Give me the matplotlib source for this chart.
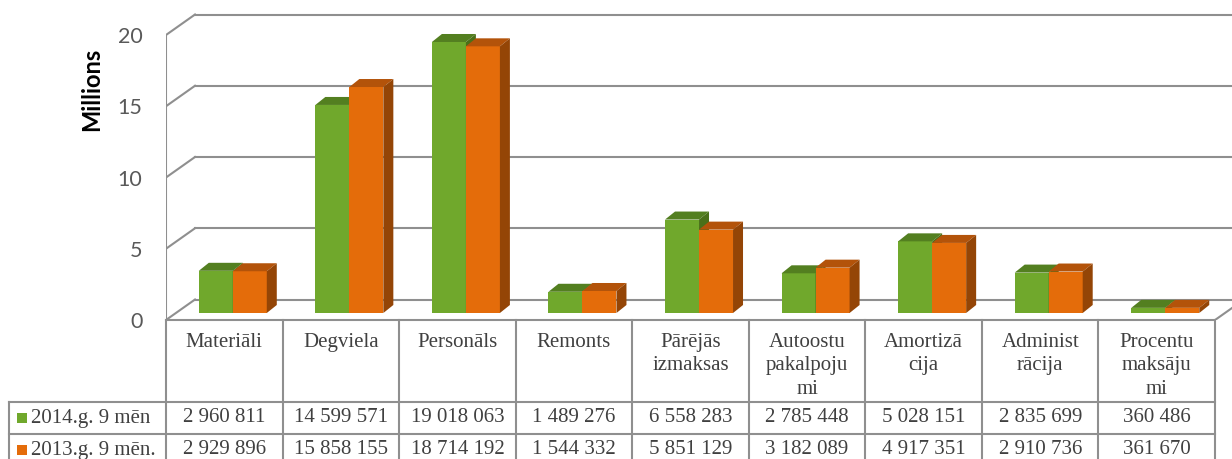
import matplotlib
matplotlib.use('Agg')
import matplotlib.pyplot as plt
import matplotlib.patches as patches
import numpy as np

categories = ["Materiāli", "Degviela", "Personāls", "Remonts", "Pārējās\nizmaksas",
              "Autoostu\npakalpoju\nmi", "Amortizā\ncija", "Administ\nrācija",
              "Procentu\nmaksāju\nmi"]
series_names = ["2014.g. 9 mēn", "2013.g. 9 mēn."]
values_2014 = [2960811, 14599571, 19018063, 1489276, 6558283, 2785448, 5028151, 2835699, 360486]
values_2013 = [2929896, 15858155, 18714192, 1544332, 5851129, 3182089, 4917351, 2910736, 361670]
y_ticks = [0, 5, 10, 15, 20]

# colours: front, top, side
green = ('#70A82C', '#537F20', '#4A7019')
orange = ('#E46C0A', '#B3530A', '#944506')
grid_col = '#8f8f8f'
text_col = '#404040'

W, H = 1232, 459
PX_CAT = 116.56   # pixels per category
PX_M = 14.25      # pixels per million
Y0 = 320          # pixel row of value 0 on the front plane

fig = plt.figure(figsize=(W / 100, H / 100), dpi=100)
ax = fig.add_axes([166 / W, (H - Y0) / H, (W - 166) / W, Y0 / H])
ax.set_xlim(-0.5, -0.5 + (W - 166) / PX_CAT)
ax.set_ylim(0, Y0 / PX_M)
ax.patch.set_alpha(0)
for s in ax.spines.values():
    s.set_visible(False)

# depth of the walls and bars (in data units)
wx, wy = 29 / PX_CAT, 20.5 / PX_M
ox, oy = 8.5 / PX_CAT, 7 / PX_M
dx, dy = 10 / PX_CAT, 8 / PX_M
bw = 34 / PX_CAT

n = len(categories)
xs = np.arange(n)
xmax = ax.get_xlim()[1]

# walls / gridlines
for t in y_ticks:
    ax.plot([-0.5, -0.5 + wx], [t, t + wy], color=grid_col, lw=1.5, zorder=1)
    ax.plot([-0.5 + wx, xmax], [t + wy, t + wy], color=grid_col, lw=1.5, zorder=1)
ax.plot([-0.5, -0.5], [0, y_ticks[-1]], color=grid_col, lw=1.5, zorder=1)
ax.plot([n - 0.5, n - 0.5 + wx], [0, wy], color=grid_col, lw=1.5, zorder=1)


def bar3d(x0, vals, cols, z):
    ax.bar(x0, vals, bw, bottom=oy, align='edge', color=cols[0], lw=0, zorder=z)
    for x, v in zip(x0, vals):
        top = [(x, oy + v), (x + bw, oy + v), (x + bw + dx, oy + v + dy), (x + dx, oy + v + dy)]
        side = [(x + bw, oy), (x + bw + dx, oy + dy), (x + bw + dx, oy + v + dy), (x + bw, oy + v)]
        ax.add_patch(patches.Polygon(top, closed=True, facecolor=cols[1], lw=0, zorder=z))
        ax.add_patch(patches.Polygon(side, closed=True, facecolor=cols[2], lw=0, zorder=z))


v14 = np.array(values_2014) / 1e6
v13 = np.array(values_2013) / 1e6
bar3d(xs + ox - bw, v14, green, 2)
bar3d(xs + ox, v13, orange, 3)

ax.set_xticks([])
ax.set_yticks(y_ticks)
ax.set_yticklabels([str(t) for t in y_ticks], family='Lato')
ax.tick_params(axis='y', length=0, pad=17, labelsize=15.5, labelcolor='#595959')

# table + labels in pixel coordinates
tab = fig.add_axes([0, 0, 1, 1])
tab.set_xlim(0, W)
tab.set_ylim(H, 0)
tab.axis('off')

tab.text(92, 89, "Millions", rotation=90, fontweight='bold', fontsize=17,
         family='Lato', ha='center', va='center', color='black')

col_x = 166 + PX_CAT * np.arange(n + 1)
row_y = [402, 434]
lk = dict(color=grid_col, lw=1.5)
for cx in col_x:
    tab.plot([cx, cx], [Y0, H + 5], **lk)
tab.plot([col_x[0], col_x[-1]], [Y0, Y0], **lk)
for ry in row_y:
    tab.plot([9, col_x[-1]], [ry, ry], **lk)
tab.plot([9, 9], [row_y[0], H + 5], **lk)

serif = 'Liberation Serif'
for i, lab in enumerate(categories):
    cx = (col_x[i] + col_x[i + 1]) / 2
    tab.text(cx, 333, lab, ha='center', va='top', fontsize=15, family=serif,
             color=text_col, linespacing=1.32)


def fmt(v):
    return f"{v:,}".replace(",", " ")


for r, (name, vals, cols) in enumerate([(series_names[0], values_2014, green),
                                        (series_names[1], values_2013, orange)]):
    ty = 418 + 32 * r
    tab.add_patch(patches.Rectangle((17, ty - 5), 10, 10, facecolor=cols[0], lw=0))
    tab.text(31, ty, name, ha='left', va='center', fontsize=15, family=serif, color=text_col)
    for i, v in enumerate(vals):
        cx = (col_x[i] + col_x[i + 1]) / 2
        tab.text(cx, ty, fmt(v), ha='center', va='center', fontsize=15, family=serif,
                 color=text_col)

fig.savefig('out.png', dpi=100)
